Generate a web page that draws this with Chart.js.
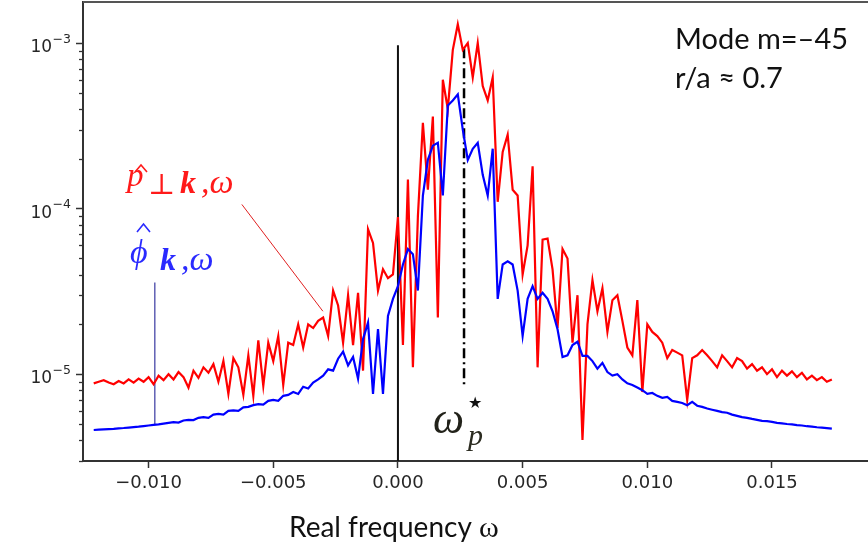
<!DOCTYPE html>
<html><head><meta charset="utf-8">
<script src="https://cdn.jsdelivr.net/npm/chart.js@4.4.1/dist/chart.umd.min.js"></script>
<style>html,body{margin:0;padding:0;background:#fff;overflow:hidden}#wrap{position:relative;width:868px;height:544px}</style>
</head><body><div id="wrap"><canvas id="c" width="868" height="544"></canvas></div>
<script>
// Frequency grid (real frequency ω)
const omega = [
-0.0122,-0.0120,-0.0118,-0.0116,-0.0114,-0.0112,-0.0110,-0.0108,-0.0106,-0.0104,
-0.0102,-0.0100,-0.0098,-0.0096,-0.0094,-0.0092,-0.0090,-0.0088,-0.0086,-0.0084,
-0.0082,-0.0080,-0.0078,-0.0076,-0.0074,-0.0072,-0.0070,-0.0068,-0.0066,-0.0064,
-0.0062,-0.0060,-0.0058,-0.0056,-0.0054,-0.0052,-0.0050,-0.0048,-0.0046,-0.0044,
-0.0042,-0.0040,-0.0038,-0.0036,-0.0034,-0.0032,-0.0030,-0.0028,-0.0026,-0.0024,
-0.0022,-0.0020,-0.0018,-0.0016,-0.0014,-0.0012,-0.0010,-0.0008,-0.0006,-0.0004,
-0.0002,0.0000,0.0002,0.0004,0.0006,0.0008,0.0010,0.0012,0.0014,0.0016,
0.0018,0.0020,0.0022,0.0024,0.0026,0.0028,0.0030,0.0032,0.0034,0.0036,
0.0038,0.0040,0.0042,0.0044,0.0046,0.0048,0.0050,0.0052,0.0054,0.0056,
0.0058,0.0060,0.0062,0.0064,0.0066,0.0068,0.0070,0.0072,0.0074,0.0076,
0.0078,0.0080,0.0082,0.0084,0.0086,0.0088,0.0090,0.0092,0.0094,0.0096,
0.0098,0.0100,0.0102,0.0104,0.0106,0.0108,0.0110,0.0112,0.0114,0.0116,
0.0118,0.0120,0.0122,0.0124,0.0126,0.0128,0.0130,0.0132,0.0134,0.0136,
0.0138,0.0140,0.0142,0.0144,0.0146,0.0148,0.0150,0.0152,0.0154,0.0156,
0.0158,0.0160,0.0162,0.0164,0.0166,0.0168,0.0170,0.0172,0.0174];

// Pressure spectrum  p̂⊥k,ω  (red)
const pPerp = [
8.8e-6,9.0e-6,9.2e-6,8.9e-6,8.7e-6,9.1e-6,8.8e-6,9.3e-6,8.9e-6,9.4e-6,
9.0e-6,9.6e-6,8.7e-6,9.8e-6,9.2e-6,1.0e-5,9.3e-6,1.03e-5,9.6e-6,8.3e-6,
1.05e-5,9.5e-6,1.1e-5,1.02e-5,1.15e-5,9.0e-6,1.2e-5,7.6e-6,1.25e-5,1.1e-5,
7.5e-6,1.3e-5,7.4e-6,1.6e-5,8.5e-6,1.55e-5,1.2e-5,1.7e-5,8.6e-6,1.55e-5,
1.5e-5,2.0e-5,1.45e-5,2.0e-5,1.9e-5,2.1e-5,2.2e-5,1.7e-5,3.2e-5,2.6e-5,
1.55e-5,3.0e-5,1.5e-5,3.1e-5,1.05e-5,7.5e-5,6.2e-5,3.2e-5,4.3e-5,3.8e-5,
4.0e-5,8.9e-5,1.5e-5,1.5e-4,1.1e-5,9.0e-5,3.3e-4,1.3e-4,3.6e-4,2.2e-5,
6.0e-4,4.0e-4,9.1e-4,1.3e-3,9.1e-4,1.0e-3,6.2e-4,1.0e-3,5.5e-4,4.5e-4,
6.2e-4,1.1e-4,2.2e-4,2.8e-4,1.3e-4,1.2e-4,4.0e-5,6.0e-5,1.8e-4,1.1e-5,
6.5e-5,6.6e-5,4.3e-5,1.9e-5,5.7e-5,5.0e-5,1.55e-5,3.0e-5,4.0e-6,2.0e-5,
3.7e-5,2.4e-5,3.3e-5,1.8e-5,2.8e-5,3.0e-5,2.1e-5,1.45e-5,1.3e-5,2.8e-5,
7.8e-6,2.0e-5,1.8e-5,1.7e-5,1.55e-5,1.25e-5,1.4e-5,1.35e-5,1.3e-5,7.0e-6,
1.25e-5,1.3e-5,1.4e-5,1.3e-5,1.2e-5,1.1e-5,1.3e-5,1.2e-5,1.1e-5,1.25e-5,
1.2e-5,1.08e-5,1.15e-5,1.05e-5,1.1e-5,1.0e-5,1.07e-5,9.6e-6,1.05e-5,9.8e-6,
1.04e-5,9.6e-6,1.02e-5,9.3e-6,9.8e-6,9.2e-6,9.6e-6,9.0e-6,9.3e-6];

// Potential spectrum  φ̂k,ω  (blue)
const phiHat = [
4.60e-6,4.62e-6,4.64e-6,4.66e-6,4.68e-6,4.71e-6,4.73e-6,4.76e-6,4.79e-6,4.82e-6,
4.86e-6,4.90e-6,4.94e-6,4.98e-6,5.03e-6,5.08e-6,5.13e-6,5.10e-6,5.25e-6,5.30e-6,
5.28e-6,5.45e-6,5.50e-6,5.45e-6,5.70e-6,5.75e-6,5.70e-6,6.00e-6,6.05e-6,6.00e-6,
6.30e-6,6.35e-6,6.50e-6,6.60e-6,6.55e-6,6.90e-6,7.00e-6,6.90e-6,7.40e-6,7.50e-6,
7.80e-6,7.60e-6,8.40e-6,8.20e-6,8.90e-6,9.30e-6,9.80e-6,1.07e-5,1.05e-5,1.24e-5,
1.37e-5,1.13e-5,1.27e-5,9.4e-6,1.63e-5,2.05e-5,7.6e-6,1.87e-5,7.6e-6,2.25e-5,
2.85e-5,3.4e-5,4.6e-5,5.7e-5,5.3e-5,3.2e-5,1.2e-4,1.97e-4,2.4e-4,2.5e-4,
1.2e-4,4.2e-4,4.5e-4,4.9e-4,3.0e-4,1.97e-4,2.3e-4,2.5e-4,1.6e-4,1.2e-4,
2.3e-4,2.85e-5,4.6e-5,4.8e-5,4.6e-5,3.2e-5,1.7e-5,2.85e-5,3.4e-5,2.85e-5,
3.1e-5,2.85e-5,2.4e-5,1.87e-5,1.27e-5,1.3e-5,1.5e-5,1.57e-5,1.29e-5,1.29e-5,
1.2e-5,1.08e-5,1.17e-5,1.03e-5,9.8e-6,1.0e-5,9.3e-6,8.8e-6,8.6e-6,8.3e-6,
8.0e-6,7.6e-6,7.7e-6,7.4e-6,7.2e-6,7.3e-6,6.9e-6,6.8e-6,6.7e-6,6.5e-6,
6.8e-6,6.45e-6,6.35e-6,6.2e-6,6.1e-6,6.0e-6,5.9e-6,5.85e-6,5.7e-6,5.6e-6,
5.5e-6,5.45e-6,5.37e-6,5.3e-6,5.22e-6,5.2e-6,5.15e-6,5.08e-6,5.05e-6,5.0e-6,
4.97e-6,4.93e-6,4.9e-6,4.85e-6,4.82e-6,4.78e-6,4.75e-6,4.72e-6,4.69e-6];

const xTickValues = [-0.010, -0.005, 0.000, 0.005, 0.010, 0.015];
const yTickValues = [1e-5, 1e-4, 1e-3];
const omegaStar = 0.00265;               // ω_p* marker
const zeroLineTop = 9.7e-4;
const starLineRange = [9.3e-4, 8.6e-6];
const redLeader = [[-0.00626, 1.06e-4], [-0.00301, 2.4e-5]];
const blueLeader = [[-0.00975, 3.58e-5], [-0.00975, 4.93e-6]];
const X_MIN = -0.01263, X_MAX = 0.01885, Y_MIN = 2.99e-6, Y_MAX = 1.77e-3;

function xLabel(v){ const s = Math.abs(v).toFixed(3); return (v < -1e-9 ? '\u2212' : '') + s; }
const pts = arr => omega.map((w,i)=>({x:w, y:arr[i]}));

function hat(ctx, x, y, w, h){
  ctx.beginPath(); ctx.moveTo(x, y); ctx.lineTo(x + w/2, y - h); ctx.lineTo(x + w, y); ctx.stroke();
}

const annot = {
  id:'annot',
  afterDraw(chart){
    const ctx = chart.ctx, ca = chart.chartArea, ys = chart.scales.y;
    ctx.save();
    // top frame
    ctx.strokeStyle = '#555'; ctx.lineWidth = 2;
    ctx.beginPath(); ctx.moveTo(ca.left, ca.top); ctx.lineTo(ca.right, ca.top); ctx.stroke();
    // minor log ticks
    ctx.strokeStyle = '#333'; ctx.lineWidth = 1.3;
    for (let d=-6; d<=-3; d++) for (let m=2; m<=9; m++){
      const v = m*Math.pow(10,d); if (v < ys.min || v > ys.max) continue;
      const y = Math.round(ys.getPixelForValue(v))+0.5;
      ctx.beginPath(); ctx.moveTo(ca.left-4, y); ctx.lineTo(ca.left, y); ctx.stroke();
    }
    // y tick labels 10^n
    ctx.fillStyle = '#262626'; ctx.textBaseline = 'alphabetic';
    yTickValues.forEach(v => {
      const y = ys.getPixelForValue(v);
      const e = Math.round(Math.log10(v));
      ctx.font = '12.5px "DejaVu Sans"'; ctx.textAlign = 'right';
      const es = '\u2212' + Math.abs(e);
      ctx.fillText(es, 71, y - 0.5);
      const ew = ctx.measureText(es).width;
      ctx.font = '17px "DejaVu Sans"';
      ctx.fillText('10', 71 - ew - 0.5, y + 9);
    });
    // annotation text
    ctx.fillStyle = '#111'; ctx.textAlign = 'left';
    ctx.font = '29px Lato';
    ctx.fillText('Mode m=\u201345', 675, 49);
    ctx.fillText('r/a \u2248 0.7', 675, 88);
    // x title
    ctx.font = '28px Lato';
    ctx.fillText('Real frequency ', 289, 537);
    const wT = ctx.measureText('Real frequency ').width;
    ctx.font = '30px "Liberation Serif"';
    ctx.fillText('\u03c9', 289 + wT, 537);
    // red label p̂⊥k,ω
    ctx.fillStyle = '#ff1a1a'; ctx.strokeStyle = '#ff1a1a'; ctx.lineWidth = 1.6;
    ctx.font = 'italic 33px "Liberation Serif"';
    ctx.fillText('p', 127, 186);
    hat(ctx, 135, 172, 12, 7);
    ctx.font = '29px "DejaVu Serif"';
    ctx.fillText('\u22a5', 148, 194);
    ctx.font = 'bold italic 32px "Liberation Serif"';
    ctx.fillText('k', 180, 193);
    ctx.font = 'italic 34px "Liberation Serif"';
    ctx.fillText(',\u03c9', 201, 193);
    // blue label φ̂k,ω
    ctx.fillStyle = '#2a2aff'; ctx.strokeStyle = '#2a2aff';
    ctx.font = 'italic 34px "Liberation Serif"';
    ctx.fillText('\u03d5', 130, 263);
    hat(ctx, 137, 232, 13, 8);
    ctx.font = 'bold italic 32px "Liberation Serif"';
    ctx.fillText('k', 160, 270);
    ctx.font = 'italic 34px "Liberation Serif"';
    ctx.fillText(',\u03c9', 181, 270);
    // ω_p*
    ctx.fillStyle = '#22221a';
    ctx.font = 'italic 44px "Liberation Serif"';
    ctx.fillText('\u03c9', 433, 433);
    ctx.font = '16px "DejaVu Sans"';
    ctx.fillStyle = '#111';
    ctx.fillText('\u2605', 468, 408);
    ctx.font = 'italic 30px "Liberation Serif"';
    ctx.fillStyle = '#2b2b20';
    ctx.fillText('p', 468, 445);
    ctx.restore();
  }
};

const noPad = s => { s.paddingTop = 0; s.paddingBottom = 0; s.paddingLeft = 0; s.paddingRight = 0; };

new Chart(document.getElementById('c'), {
  type: 'line',
  data: { datasets: [
    { label:'phi', data: pts(phiHat), borderColor:'#0000ff', borderWidth:2.2, pointRadius:0, tension:0 },
    { label:'p', data: pts(pPerp), borderColor:'#ff0000', borderWidth:2.2, pointRadius:0, tension:0 },
    { label:'zero', data: [{x:0,y:zeroLineTop},{x:0,y:Y_MIN}], borderColor:'#111', borderWidth:2, pointRadius:0 },
    { label:'star', data: [{x:omegaStar,y:starLineRange[0]},{x:omegaStar,y:starLineRange[1]}], borderColor:'#000', borderWidth:2.5, borderDash:[10,4,2,4], pointRadius:0 },
    { label:'lr', data: redLeader.map(p=>({x:p[0],y:p[1]})), borderColor:'#e02020', borderWidth:1, pointRadius:0 },
    { label:'lb', data: blueLeader.map(p=>({x:p[0],y:p[1]})), borderColor:'#4848a8', borderWidth:1.3, pointRadius:0 }
  ]},
  options: {
    responsive:false, animation:false, devicePixelRatio:1,
    layout:{ padding:{ top:2, right:0, left:0, bottom:0 } },
    plugins:{ legend:{display:false}, tooltip:{enabled:false} },
    scales:{
      x:{ type:'linear', min:X_MIN, max:X_MAX,
        afterBuildTicks: s => { s.ticks = xTickValues.map(v=>({value:v})); },
        afterFit: s => { s.height = 83; noPad(s); },
        ticks:{ callback: v => xLabel(v), font:{family:'DejaVu Sans', size:18}, color:'#262626', padding:5, maxRotation:0, autoSkip:false },
        grid:{ drawOnChartArea:false, tickLength:7, tickColor:'#333', tickWidth:1.5 },
        border:{ color:'#333', width:2 } },
      y:{ type:'logarithmic', min:Y_MIN, max:Y_MAX,
        afterBuildTicks: s => { s.ticks = yTickValues.map(v=>({value:v})); },
        afterFit: s => { s.width = 83; noPad(s); },
        ticks:{ callback: () => '', padding:0, autoSkip:false },
        grid:{ drawOnChartArea:false, tickLength:7, tickColor:'#333', tickWidth:1.5 },
        border:{ color:'#333', width:2 } }
    }
  },
  plugins:[annot]
});
</script></body></html>
